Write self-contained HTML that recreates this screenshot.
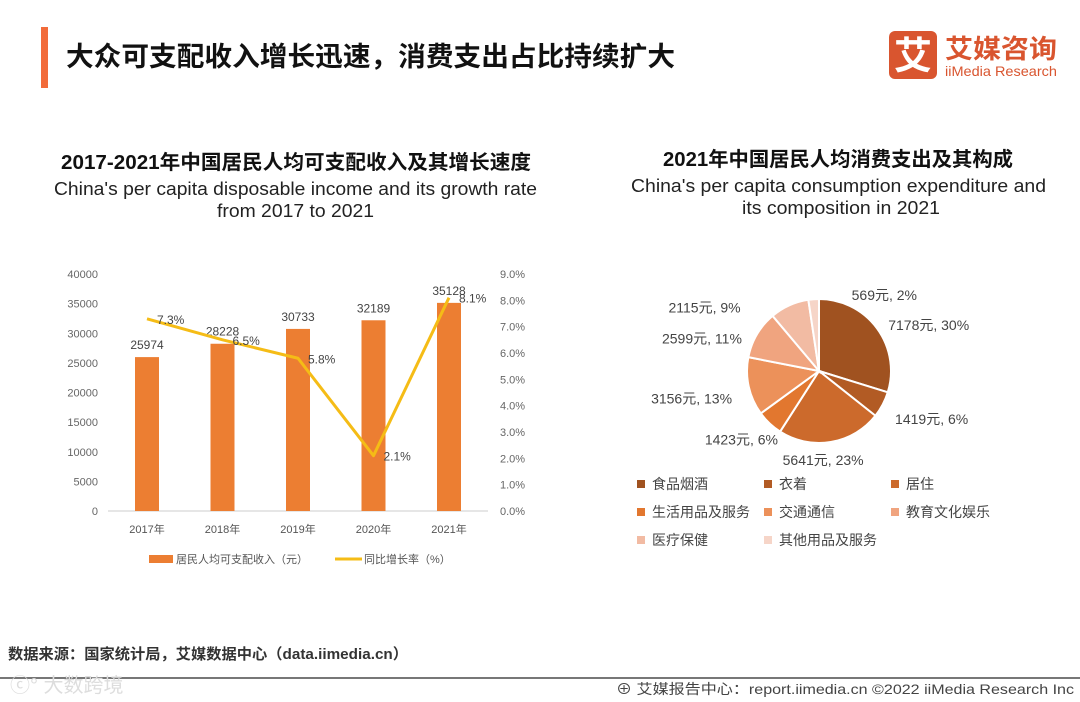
<!DOCTYPE html>
<html><head><meta charset="utf-8"><style>
html,body{margin:0;padding:0;background:#fff;}
svg{display:block;font-family:"Liberation Sans","Noto Sans CJK SC",sans-serif;}
</style></head><body>
<svg id="page" width="1080" height="702" viewBox="0 0 1080 702" xmlns="http://www.w3.org/2000/svg">
<rect x="41" y="27" width="7" height="61" fill="#F26B3A"/>
<text x="66" y="66" font-size="27" font-weight="bold" fill="#111" textLength="609" lengthAdjust="spacingAndGlyphs">大众可支配收入增长迅速，消费支出占比持续扩大</text>
<g>
<rect x="889" y="31" width="48" height="48" rx="6" fill="#D9552F"/>
<text x="913" y="69" font-size="38" font-weight="bold" fill="#fff" text-anchor="middle">艾</text>
<text x="945" y="58" font-size="26" font-weight="bold" fill="#D9552F" textLength="112" lengthAdjust="spacingAndGlyphs">艾媒咨询</text>
<text x="945" y="76" font-size="14" fill="#D9552F" textLength="112" lengthAdjust="spacingAndGlyphs">iiMedia Research</text>
</g>
<g>
<text x="61" y="169" font-size="20" font-weight="bold" fill="#111" textLength="470" lengthAdjust="spacingAndGlyphs">2017-2021年中国居民人均可支配收入及其增长速度</text>
<text x="54" y="195" font-size="18" fill="#222" textLength="483" lengthAdjust="spacingAndGlyphs">China's per capita disposable income and its growth rate</text>
<text x="217" y="217" font-size="18" fill="#222" textLength="157" lengthAdjust="spacingAndGlyphs">from 2017 to 2021</text>
</g>
<g>
<text x="663" y="166" font-size="20" font-weight="bold" fill="#111" textLength="350" lengthAdjust="spacingAndGlyphs">2021年中国居民人均消费支出及其构成</text>
<text x="631" y="192" font-size="18" fill="#222" textLength="415" lengthAdjust="spacingAndGlyphs">China's per capita consumption expenditure and</text>
<text x="742" y="214" font-size="18" fill="#222" textLength="198" lengthAdjust="spacingAndGlyphs">its composition in 2021</text>
</g>
<g id="bar"></g>
<g id="pie"></g>
<text x="8" y="659" font-size="15" font-weight="bold" fill="#333" textLength="400" lengthAdjust="spacingAndGlyphs">数据来源：国家统计局，艾媒数据中心（data.iimedia.cn）</text>
<line x1="0" y1="678" x2="1080" y2="678" stroke="#777" stroke-width="2"/>
<text x="10" y="692" font-size="20" fill="#ddd">ⓒ° 大数跨境</text>
<text x="616" y="694" font-size="14" fill="#444" textLength="458" lengthAdjust="spacingAndGlyphs">⊕ 艾媒报告中心：report.iimedia.cn  ©2022  iiMedia Research  Inc</text>
</svg>
<script>
const years=["2017年","2018年","2019年","2020年","2021年"];
const income=[25974,28228,30733,32189,35128];
const growth=[7.3,6.5,5.8,2.1,8.1];
const leftTicks=[0,5000,10000,15000,20000,25000,30000,35000,40000];
const rightTicks=[0,1,2,3,4,5,6,7,8,9];
const pieCats=["食品烟酒","衣着","居住","生活用品及服务","交通通信","教育文化娱乐","医疗保健","其他用品及服务"];
const pieVals=[7178,1419,5641,1423,3156,2599,2115,569];
const piePct=[30,6,23,6,13,11,9,2];

const NS="http://www.w3.org/2000/svg";
function mk(tag,attrs,parent,txt){const e=document.createElementNS(NS,tag);for(const k in attrs)e.setAttribute(k,attrs[k]);if(txt!==undefined)e.textContent=txt;parent.appendChild(e);return e;}
const bar=document.getElementById('bar');
const y0=511,yTop=274;
const yL=v=>y0-(v/40000)*(y0-yTop);
const yR=v=>y0-(v/9)*(y0-yTop);
const xC=i=>147+i*75.5;
leftTicks.forEach(t=>{const e=mk('text',{x:98,y:yL(t)+4,'font-size':11,fill:'#666','text-anchor':'end'},bar,String(t));

});
rightTicks.forEach(t=>{const e=mk('text',{x:500,y:yR(t)+4,'font-size':11,fill:'#666'},bar,t.toFixed(1)+'%');

});
const ax=mk('line',{x1:108,x2:488,y1:y0,y2:y0,stroke:'#ccc','stroke-width':1},bar);


income.forEach((v,i)=>{
 const r=mk('rect',{x:xC(i)-12,y:yL(v),width:24,height:y0-yL(v),fill:'#EC7E32'},bar);
 
 
 const l=mk('text',{x:xC(i),y:yL(v)-8,'font-size':12,fill:'#444','text-anchor':'middle'},bar,String(v));
 
 
 const xl=mk('text',{x:xC(i),y:533,'font-size':11,fill:'#555','text-anchor':'middle'},bar,years[i]);
 
 
});
const pts=growth.map((g,i)=>xC(i)+','+yR(g)).join(' ');
const pl=mk('polyline',{points:pts,fill:'none',stroke:'#F5BC16','stroke-width':3,'stroke-linejoin':'round'},bar);


growth.forEach((g,i)=>{const t=mk('text',{x:xC(i)+10,y:yR(g)+5,'font-size':12,fill:'#444'},bar,g.toFixed(1)+'%');

});
const lg1=mk('rect',{x:149,y:555,width:24,height:8,fill:'#EC7E32'},bar);


const lt1=mk('text',{x:176,y:563,'font-size':11,fill:'#555'},bar,'居民人均可支配收入（元）');


const lg2=mk('line',{x1:335,x2:362,y1:559,y2:559,stroke:'#F5BC16','stroke-width':3},bar);


const lt2=mk('text',{x:364,y:563,'font-size':11,fill:'#555'},bar,'同比增长率（%）');



const pie=document.getElementById('pie');
const colors=['#A05220','#B25B24','#CC6A2C','#E2772F','#EC915A','#F0A47F','#F2BBA3','#F6D5C8'];
// label layout nudges (styling only)
const nudge=[[0,5,'start'],[0,8,'start'],[-10,4,'middle'],[18,6,'end'],[-3,9,'end'],[-3,11,'end'],[-43,15,'end'],[39,10,'start']];
const cx=819,cy=371,R=72;
const total=pieVals.reduce((a,b)=>a+b,0);
let a0=0;
pieVals.forEach((v,i)=>{
 const a1=a0+v/total*2*Math.PI;
 const p=a=>[cx+R*Math.sin(a),cy-R*Math.cos(a)];
 const s=p(a0),e=p(a1),lg=(a1-a0)>Math.PI?1:0;
 const path=mk('path',{d:`M${cx},${cy}L${s[0]},${s[1]}A${R},${R} 0 ${lg} 1 ${e[0]},${e[1]}Z`,fill:colors[i],stroke:'#fff','stroke-width':2},pie);
 
 
 const m=(a0+a1)/2,dx=Math.sin(m),dy=-Math.cos(m);
 const lx=cx+(R+14)*dx+nudge[i][0],ly=cy+(R+14)*dy+5+nudge[i][1];
 const t=mk('text',{x:lx,y:ly,'font-size':14,fill:'#444','text-anchor':nudge[i][2]},pie,pieVals[i]+'元, '+piePct[i]+'%');
 
 
 a0=a1;
});
pieCats.forEach((c,i)=>{
 const lx=637+(i%3)*127,ly=484+Math.floor(i/3)*28;
 const r=mk('rect',{x:lx,y:ly-4,width:8,height:8,fill:colors[i]},pie);
 
 
 const t=mk('text',{x:lx+15,y:ly+5,'font-size':14,fill:'#444'},pie,c);
 
 
});
</script>
</body></html>
